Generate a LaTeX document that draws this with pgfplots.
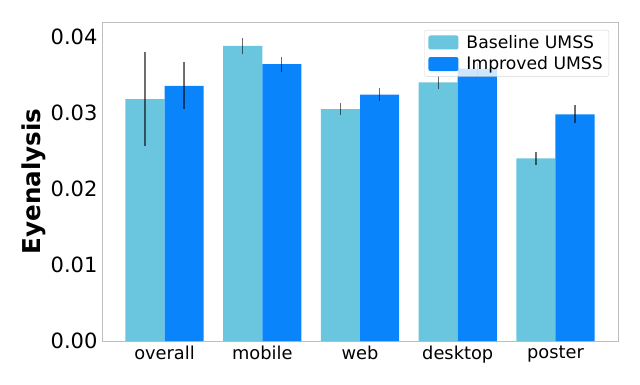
\documentclass[border=0pt]{standalone}
\usepackage{pgfplots}
\pgfplotsset{compat=1.18}
\usepackage{fontspec}
\setmainfont{DejaVu Sans}

\definecolor{basecol}{RGB}{106,197,222}
\definecolor{impcol}{RGB}{10,132,250}
\definecolor{framecol}{RGB}{190,190,190}

\begin{document}
\begin{tikzpicture}
% page = 640 x 384 px, 1pt per px
\path[use as bounding box] (-102pt,-43pt) rectangle (538pt,341pt);
\begin{axis}[
    scale only axis,
    width=516pt, height=319pt,
    at={(0,0)}, anchor=south west,
    xmin=-0.64, xmax=4.64,
    ymin=0, ymax=0.04194,
    xtick={0,1,2,3,4},
    xticklabels={overall, mobile, web, desktop, poster},
    ytick={0,0.01,0.02,0.03,0.04},
    yticklabel style={/pgf/number format/fixed, /pgf/number format/fixed zerofill,
        /pgf/number format/precision=2,
        font=\fontsize{21}{24}\selectfont, xshift=-1pt},
    /pgf/number format/assume math mode=true,
    scaled y ticks=false,
    major tick length=0pt,
    axis line style={framecol, line width=0.8pt},
    tick label style={black},
    xticklabel style={font=\fontsize{17.8}{20}\selectfont, yshift=-1pt},
    ylabel={\textbf{Eyenalysis}},
    every axis y label/.style={at={(axis description cs:0,0.5)}, xshift=-68pt,
        rotate=90, anchor=center, font=\fontsize{24.6}{28}\selectfont},
    legend cell align=left,
    legend style={at={(0.9826,0.975)}, anchor=north east,
        font=\fontsize{17.2}{20}\selectfont,
        fill=white, fill opacity=0.8, draw opacity=0.8, text opacity=1,
        draw=black!20, rounded corners=2pt,
        row sep=3pt, inner xsep=4pt, inner ysep=3pt},
    ybar, bar width=0.4, bar shift=0pt,
    error bars/y dir=both, error bars/y explicit,
    error bars/error mark=none,
    error bars/error bar style={line width=1.3pt, black, opacity=0.55},
]
\addplot[fill=basecol, draw=none,
    legend image code/.code={\fill[basecol, fill opacity=1] (0pt,-7pt) rectangle (30pt,7pt); \path (36pt,0pt);}]
    coordinates {
    (-0.2,0.0318) +- (0,0.0062)
    (0.8,0.0388) +- (0,0.0011)
    (1.8,0.0305) +- (0,0.0008)
    (2.8,0.0340) +- (0,0.0009)
    (3.8,0.0240) +- (0,0.0008)
};
\addlegendentry{Baseline UMSS}
\addplot[fill=impcol, draw=none,
    legend image code/.code={\fill[impcol, fill opacity=1] (0pt,-7pt) rectangle (30pt,7pt); \path (36pt,0pt);}]
    coordinates {
    (0.2,0.03355) +- (0,0.0031)
    (1.2,0.0364) +- (0,0.0010)
    (2.2,0.0324) +- (0,0.00085)
    (3.2,0.0358) +- (0,0.0008)
    (4.2,0.0298) +- (0,0.0012)
};
\addlegendentry{Improved UMSS}
\end{axis}
\end{tikzpicture}
\end{document}
